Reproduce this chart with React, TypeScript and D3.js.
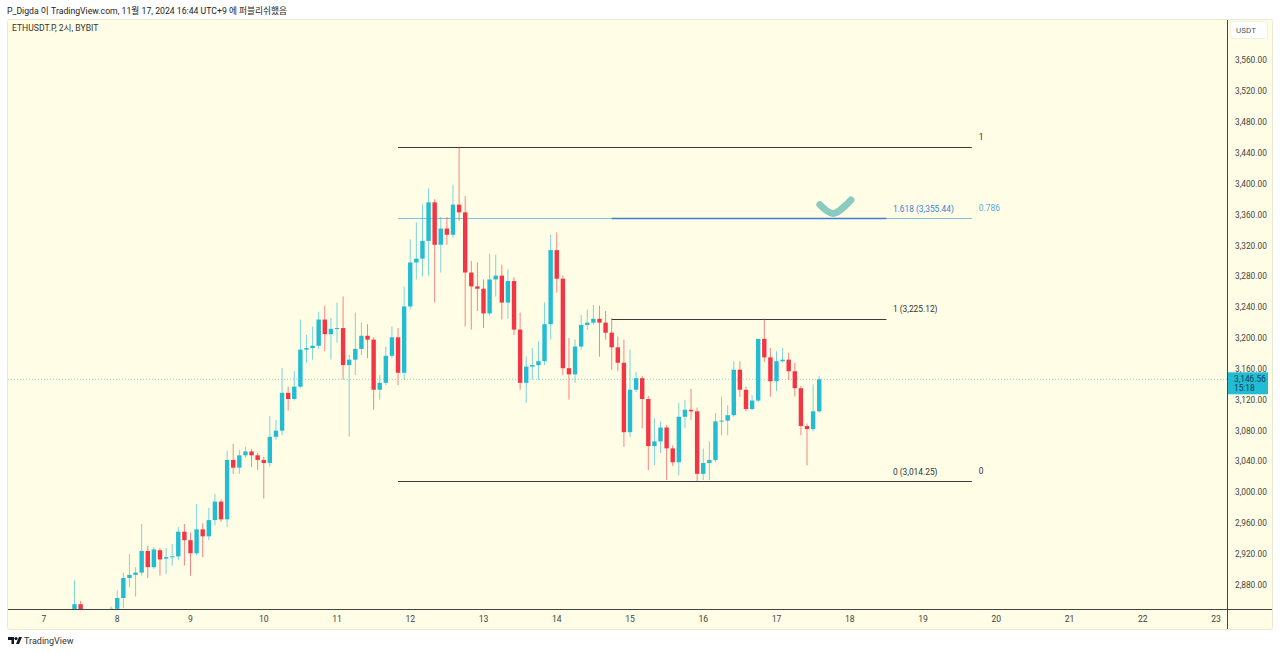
import React from 'react';
import * as d3 from 'd3';

const title = 'P_Digda 이 TradingView.com, 11월 17, 2024 16:44 UTC+9 에 퍼블리쉬했음';
const symbolLabel = 'ETHUSDT.P, 2시, BYBIT';
const currency = 'USDT';
const lastPrice = 3146.56;
const countdown = '15:18';

// first bar: 7 Nov 2024 10:00, 2-hour bars
const firstBarTime = Date.UTC(2024, 10, 7, 10);
const barMs = 2 * 3600 * 1000;

// [open, high, low, close]
const ohlc: [number, number, number, number][] = [
  [2828, 2886, 2815, 2855], [2855, 2859, 2810, 2835], [2835, 2843, 2815, 2820], [2820, 2830, 2805, 2825],
  [2825, 2840, 2815, 2832], [2832, 2842, 2822, 2838], [2838, 2852, 2830, 2849],
  // Nov 8
  [2849, 2873, 2840, 2863], [2863, 2896, 2850, 2889], [2889, 2920, 2877, 2893], [2893, 2903, 2865, 2896],
  [2896, 2959, 2892, 2924], [2924, 2931, 2889, 2903], [2903, 2929, 2901, 2926], [2925, 2928, 2892, 2913],
  [2914, 2928, 2894, 2916], [2916, 2933, 2905, 2917], [2917, 2955, 2912, 2949], [2949, 2959, 2905, 2938],
  // Nov 9
  [2938, 2948, 2892, 2921], [2921, 2985, 2918, 2952], [2952, 2960, 2916, 2943], [2943, 2980, 2938, 2964],
  [2964, 2998, 2957, 2988], [2988, 2991, 2962, 2965], [2965, 3054, 2955, 3042], [3042, 3063, 3024, 3032],
  [3032, 3055, 3024, 3048], [3048, 3059, 3045, 3053], [3053, 3056, 3033, 3048], [3048, 3051, 3029, 3042],
  // Nov 10
  [3042, 3046, 2992, 3038], [3038, 3099, 3033, 3072], [3072, 3094, 3068, 3080], [3080, 3161, 3074, 3129],
  [3129, 3137, 3106, 3121], [3121, 3157, 3119, 3137], [3137, 3224, 3135, 3185], [3185, 3204, 3168, 3187],
  [3187, 3215, 3172, 3190], [3190, 3234, 3186, 3224], [3224, 3242, 3183, 3205], [3205, 3226, 3172, 3212],
  // Nov 11
  [3212, 3246, 3194, 3213], [3213, 3254, 3146, 3165], [3165, 3178, 3072, 3172], [3172, 3233, 3152, 3186],
  [3186, 3220, 3178, 3203], [3203, 3218, 3174, 3198], [3198, 3201, 3107, 3133], [3133, 3152, 3120, 3142],
  [3142, 3189, 3139, 3177], [3177, 3215, 3174, 3201], [3201, 3213, 3139, 3155], [3155, 3267, 3146, 3241],
  // Nov 12
  [3241, 3328, 3237, 3298], [3298, 3350, 3276, 3303], [3303, 3373, 3280, 3326], [3326, 3394, 3281, 3376],
  [3376, 3380, 3246, 3321], [3321, 3357, 3285, 3342], [3342, 3357, 3321, 3334], [3334, 3399, 3330, 3373],
  [3373, 3448.33, 3352, 3363], [3363, 3384, 3215, 3285], [3285, 3300, 3211, 3267], [3267, 3298, 3235, 3264],
  // Nov 13
  [3264, 3276, 3213, 3232], [3232, 3309, 3229, 3276], [3276, 3308, 3254, 3281], [3281, 3295, 3224, 3246],
  [3246, 3289, 3225, 3274], [3274, 3279, 3204, 3211], [3211, 3233, 3133, 3142], [3142, 3176, 3116, 3163],
  [3163, 3187, 3146, 3165], [3165, 3196, 3146, 3170], [3170, 3246, 3165, 3218], [3218, 3334, 3198, 3314],
  // Nov 14
  [3314, 3337, 3259, 3277], [3277, 3281, 3152, 3161], [3161, 3200, 3120, 3153], [3153, 3198, 3142, 3189],
  [3189, 3230, 3185, 3217], [3217, 3237, 3211, 3220], [3220, 3243, 3217, 3225], [3225, 3242, 3176, 3220],
  [3220, 3235, 3198, 3207], [3207, 3226, 3159, 3188], [3188, 3202, 3157, 3168], [3168, 3198, 3059, 3078],
  // Nov 15
  [3078, 3185, 3072, 3133], [3133, 3156, 3130, 3148], [3148, 3151, 3083, 3121], [3121, 3125, 3029, 3060],
  [3060, 3096, 3035, 3066], [3066, 3092, 3051, 3084], [3084, 3087, 3016, 3057], [3057, 3061, 3034, 3039],
  [3039, 3116, 3022, 3098], [3098, 3120, 3083, 3107], [3107, 3134, 3094, 3105], [3105, 3110, 3014.25, 3024],
  // Nov 16
  [3024, 3057, 3016, 3038], [3038, 3066, 3016, 3042], [3042, 3103, 3039, 3092], [3092, 3124, 3074, 3093],
  [3093, 3113, 3074, 3100], [3100, 3170, 3098, 3159], [3159, 3170, 3124, 3133], [3133, 3137, 3105, 3108],
  [3108, 3126, 3106, 3119], [3119, 3199, 3117, 3199], [3199, 3225.12, 3169, 3175], [3175, 3187, 3124, 3144],
  // Nov 17
  [3144, 3183, 3131, 3170], [3170, 3187, 3168, 3172], [3172, 3181, 3146, 3157], [3157, 3168, 3124, 3135],
  [3135, 3138, 3074, 3086], [3086, 3089, 3035, 3082], [3082, 3140, 3079, 3105], [3105, 3151, 3103, 3146.56],
];

const priceTicks = [3560, 3520, 3480, 3440, 3400, 3360, 3320, 3280, 3240, 3200, 3160, 3120, 3080, 3040, 3000, 2960, 2920, 2880];
const dayTicks = [7, 8, 9, 10, 11, 12, 13, 14, 15, 16, 17, 18, 19, 20, 21, 22, 23];

// Fib retracement (low -> high)
const retrLow = 3014.25;
const retrHigh = 3448.33;
const retrStart = Date.UTC(2024, 10, 11, 20);
const retrEnd = Date.UTC(2024, 10, 19, 16);
const retrLevels = [1, 0.786, 0];

// Trend-based fib extension
const extBase = 3014.25;
const extRange = 210.87;
const extStart = Date.UTC(2024, 10, 14, 18);
const extEnd = Date.UTC(2024, 10, 18, 12);
const extLevels = [1.618, 1, 0];

// check-mark annotation: [bar index from first bar, price]
const checkMark: [number, number][] = [[122.1, 3373], [124.3, 3361.5], [127.2, 3379]];

const W = 1280;
const H = 654;
const plotL = 8;
const plotR = 1227;
const plotT = 20;
const plotB = 609;

const UP = '#22bcd3';
const DOWN = '#f23645';
const FONT = 'Roboto, "Noto Sans", "Noto Sans CJK KR", sans-serif';

const fmt = d3.format(',.2f');

export default function App() {
  const x = d3.scaleUtc()
    .domain([new Date(Date.UTC(2024, 10, 7)), new Date(Date.UTC(2024, 10, 23))])
    .range([44, 1216]);
  const y = d3.scaleLinear().domain([3560, 2880]).range([60.4, 584.9]);
  const barX = (i: number) => x(new Date(firstBarTime + i * barMs));
  const bodyW = 4.4;

  const checkPath = d3.line<[number, number]>()
    .x(d => barX(d[0]))
    .y(d => y(d[1]))
    .curve(d3.curveCatmullRom)(checkMark) as string;

  const yLast = y(lastPrice);

  return (
    <svg width={W} height={H} style={{ position: 'absolute', left: 0, top: 0, background: '#fff' }} fontFamily={FONT}>
      <defs>
        <clipPath id="plot"><rect x={plotL} y={plotT} width={plotR - plotL} height={plotB - plotT} /></clipPath>
      </defs>
      <text x={7} y={14} fontSize={8.7} fill="#222">{title}</text>
      {/* panel */}
      <rect x={7.5} y={19.5} width={1265} height={610} rx={2} fill="#fffde6" stroke="#ece9d2" />
      <text x={12} y={31} fontSize={8.6} fill="#333">{symbolLabel}</text>

      <g clipPath="url(#plot)">
        {/* last price dotted line */}
        <line x1={plotL} x2={plotR} y1={yLast} y2={yLast} stroke={UP} strokeOpacity={0.55} strokeDasharray="1 2" />

        {/* fib retracement */}
        {retrLevels.map(l => {
          const v = retrLow + (retrHigh - retrLow) * l;
          const blue = l === 0.786;
          return (
            <line key={'r' + l} x1={x(new Date(retrStart))} x2={x(new Date(retrEnd))} y1={Math.round(y(v)) + 0.5} y2={Math.round(y(v)) + 0.5}
              stroke={blue ? '#7ec0e8' : '#3a3a3a'} strokeWidth={1} />
          );
        })}
        {/* fib extension */}
        {extLevels.map(l => {
          const v = extBase + extRange * l;
          const blue = l === 1.618;
          return (
            <line key={'e' + l} x1={x(new Date(extStart))} x2={x(new Date(extEnd))} y1={Math.round(y(v)) + 0.5} y2={Math.round(y(v)) + 0.5}
              stroke={blue ? '#3d7fd6' : '#3a3a3a'} strokeWidth={blue ? 1.4 : 1} />
          );
        })}

        {/* candles */}
        {ohlc.map((d, i) => {
          const [o, h, l, c] = d;
          const cx = barX(i);
          const up = c >= o;
          const col = up ? UP : DOWN;
          const top = y(Math.max(o, c));
          const bot = y(Math.min(o, c));
          return (
            <g key={i}>
              <line x1={cx} x2={cx} y1={y(h)} y2={y(l)} stroke={col} strokeOpacity={0.6} strokeWidth={1} />
              <rect x={cx - bodyW / 2} y={top} width={bodyW} height={Math.max(1, bot - top)} fill={col} />
            </g>
          );
        })}

        {/* check mark */}
        <path d={checkPath} fill="none" stroke="#74c2b6" strokeOpacity={0.85} strokeWidth={7} strokeLinecap="round" strokeLinejoin="round" />
      </g>

      {/* fib labels */}
      {retrLevels.map(l => {
        const v = retrLow + (retrHigh - retrLow) * l;
        return (
          <text key={'rl' + l} x={x(new Date(retrEnd)) + 7} y={y(v) - 7} fontSize={8.4}
            fill={l === 0.786 ? '#5aa7dc' : '#333'}>{String(l)}</text>
        );
      })}
      {extLevels.map(l => {
        const v = extBase + extRange * l;
        return (
          <text key={'el' + l} x={x(new Date(extEnd)) + 6.5} y={y(v) - 6.5} fontSize={8.4}
            fill={l === 1.618 ? '#3d7fd6' : '#333'}>{`${l} (${fmt(v)})`}</text>
        );
      })}

      {/* axes borders */}
      <line x1={plotR + 0.5} x2={plotR + 0.5} y1={plotT} y2={629} stroke="#444" />
      <line x1={plotL} x2={1272} y1={plotB + 0.5} y2={plotB + 0.5} stroke="#444" />

      {/* currency button */}
      <rect x={1230.5} y={21.5} width={37} height={17} rx={3} fill="#fff" stroke="#f1efe0" />
      <text x={1246} y={33} fontSize={8} textAnchor="middle" fill="#555">{currency}</text>

      {/* price axis */}
      {priceTicks.map(p => (
        <text key={p} x={1235} y={y(p) + 3} fontSize={8.3} fill="#444">{fmt(p)}</text>
      ))}
      {/* last price tag */}
      <rect x={plotR + 1} y={yLast - 7} width={40} height={22} fill="#22bcd3" />
      <text x={1234} y={yLast + 3} fontSize={8.3} fill="#0f3b57">{fmt(lastPrice)}</text>
      <text x={1234} y={yLast + 12} fontSize={8.3} fill="#0f3b57">{countdown}</text>

      {/* time axis */}
      {dayTicks.map(dd => (
        <text key={dd} x={x(new Date(Date.UTC(2024, 10, dd)))} y={622} fontSize={8.6} textAnchor="middle" fill="#444">{dd}</text>
      ))}

      {/* logo */}
      <g transform="translate(8,637)">
        <path d="M0,0 H6 V7 H3.5 V3 H0 Z" fill="#131722" />
        <circle cx={8} cy={1.6} r={1.6} fill="#131722" />
        <path d="M8,7 L11,0 H14 L11,7 Z" fill="#131722" />
      </g>
      <text x={24} y={644} fontSize={9} fill="#333">TradingView</text>
    </svg>
  );
}
